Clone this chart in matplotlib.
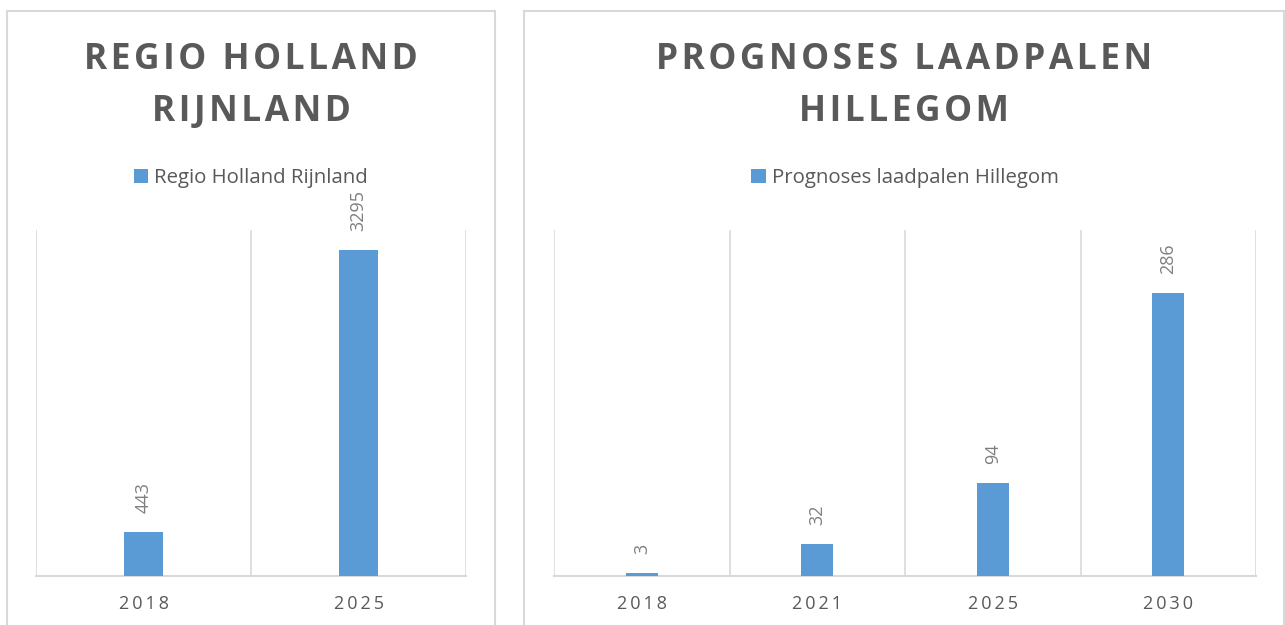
import matplotlib
matplotlib.use("Agg")
import matplotlib.pyplot as plt
from matplotlib.patches import Rectangle

plt.rcParams['font.family'] = ['Open Sans', 'DejaVu Sans']

# data
left_title = "REGIO HOLLAND\nRIJNLAND"
left_series = "Regio Holland Rijnland"
left_years = ["2018", "2025"]
left_values = [443, 3295]

right_title = "PROGNOSES LAADPALEN\nHILLEGOM"
right_series = "Prognoses laadpalen Hillegom"
right_years = ["2018", "2021", "2025", "2030"]
right_values = [3, 32, 94, 286]

BLUE = '#5B9BD5'
GRID = '#D9D9D9'
TXT = '#595959'
LBL = '#7F7F7F'

W, H = 1285, 625
fig = plt.figure(figsize=(W / 100, H / 100), dpi=100)


def spaced(s, sep='\u200a'):
    return '\n'.join(sep.join(line) for line in s.split('\n'))


def fx(px):
    return px / W


def fy(py):
    return 1 - py / H


def panel(x0, x1, ax_box, title, series, years, values, ymax):
    # chart frame
    fig.patches.append(Rectangle((fx(x0), fy(H + 20)), fx(x1 - x0), fy(11) - fy(H + 20),
                                 transform=fig.transFigure, fill=False,
                                 edgecolor=GRID, linewidth=1.5))
    fig.text(fx((x0 + x1) / 2), fy(86), spaced(title), ha='center', va='center',
             fontsize=25.5, fontweight='bold', color=TXT, linespacing=1.62)

    l, r, b, t = ax_box
    ax = fig.add_axes([fx(l), fy(b), fx(r - l), fy(t) - fy(b)])
    xs = range(len(years))
    bars = ax.bar(xs, values, width=0.18, color=BLUE, label=series, zorder=3)
    ax.set_xlim(-0.5, len(years) - 0.5)
    ax.set_ylim(0, ymax)
    for i in range(len(years) + 1):
        ax.axvline(i - 0.5, color=GRID, linewidth=1.2, zorder=1)
    for s in ['top', 'left', 'right']:
        ax.spines[s].set_visible(False)
    ax.spines['bottom'].set_color(GRID)
    ax.spines['bottom'].set_linewidth(1.5)
    ax.set_yticks([])
    ax.set_xticks(list(xs))
    ax.set_xticklabels([spaced(y, '\u2009') for y in years], fontsize=13, color=TXT)
    ax.tick_params(axis='x', length=0, pad=14)
    for rect, v in zip(bars, values):
        ax.annotate(str(v), (rect.get_x() + rect.get_width() / 2, rect.get_height()),
                    xytext=(0, 14), textcoords='offset points', rotation=90,
                    ha='center', va='bottom', fontsize=13, color=LBL)
    leg = ax.legend(loc='center', bbox_to_anchor=(0.5, (fy(178) - fy(b)) / (fy(t) - fy(b))),
                    frameon=False, fontsize=14.7, handlelength=0.7, handleheight=0.7,
                    handletextpad=0.3, borderaxespad=0)
    for txt in leg.get_texts():
        txt.set_color(TXT)
    return ax


panel(7, 495, (36, 466, 576, 230), left_title, left_series, left_years, left_values, 3500)
panel(524, 1284, (554, 1256, 576, 230), right_title, right_series, right_years, right_values, 350)

fig.savefig("out.png", dpi=100)
